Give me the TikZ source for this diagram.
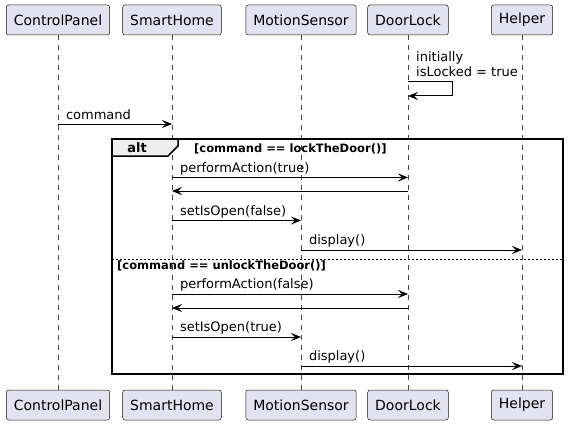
\documentclass[tikz,border=0pt]{standalone}
\usepackage{fontspec}
\setmainfont{DejaVu Sans}
\usetikzlibrary{arrows.meta,positioning}

\definecolor{partFill}{HTML}{E2E2F0}
\definecolor{partLine}{HTML}{181818}
\definecolor{tabFill}{HTML}{EEEEEE}

\tikzstyle{participant} = [rectangle, rounded corners=2.5pt, minimum height=30pt, inner xsep=7.5pt, text centered, draw=partLine, line width=0.5pt, fill=partFill, font=\fontsize{14}{16}\selectfont]
\tikzstyle{lifeline} = [draw=partLine!80, line width=0.5pt, dash pattern=on 5pt off 5pt]
\tikzstyle{arrow} = [line width=1pt, -{Stealth[length=10pt,width=8pt,inset=4pt]}]
\tikzstyle{msg} = [anchor=base west, inner sep=0pt, font=\fontsize{13}{15}\selectfont]
\tikzstyle{guard} = [anchor=base west, inner sep=0pt, font=\bfseries\fontsize{11.5}{13}\selectfont]
\tikzstyle{frameLine} = [line width=1.5pt, draw=black]

\begin{document}
\begin{tikzpicture}[x=1pt,y=-1pt]
    \useasboundingbox (0,0) rectangle (569,425);

    % participants, top row
    \node (ctrlTop)[participant] at (58,20) {ControlPanel};
    \node (homeTop)[participant] at (172,20) {SmartHome};
    \node (sensorTop)[participant] at (301,20) {MotionSensor};
    \node (lockTop)[participant] at (408,20) {DoorLock};
    \node (helperTop)[participant] at (522,20) {Helper};

    % participants, bottom row
    \node (ctrlBot)[participant] at (58,405) {ControlPanel};
    \node (homeBot)[participant] at (172,405) {SmartHome};
    \node (sensorBot)[participant] at (301,405) {MotionSensor};
    \node (lockBot)[participant] at (408,405) {DoorLock};
    \node (helperBot)[participant] at (522,405) {Helper};

    % lifelines
    \draw [lifeline] (ctrlTop.south) -- (ctrlBot.north);
    \draw [lifeline] (homeTop.south) -- (homeBot.north);
    \draw [lifeline] (sensorTop.south) -- (sensorBot.north);
    \draw [lifeline] (lockTop.south) -- (lockBot.north);
    \draw [lifeline] (helperTop.south) -- (helperBot.north);

    % self message on DoorLock
    \coordinate (selfTop) at (452,82);
    \coordinate (selfBot) at (452,96);
    \draw [arrow] (lockTop |- selfTop) -- (selfTop) -- (selfBot) -- (lockTop |- selfBot);
    \node (noteInit)[msg] at (416,62) {initially};
    \node (noteLocked)[msg] at (416,76.5) {isLocked = true};

    \draw [arrow] (ctrlTop |- 0,124) -- (homeTop |- 0,124)
        node (lblCommand)[msg, pos=0, xshift=7.5pt, yshift=5pt] {command};

    % alt frame
    \draw [frameLine] (112,139) rectangle (563,374);
    \filldraw [frameLine, fill=tabFill] (112,139) -- (178,139) -- (178,146) -- (168,156) -- (112,156) -- cycle;
    \node (altLabel)[anchor=base, inner sep=0pt, font=\bfseries\fontsize{13}{15}\selectfont] at (137,152) {alt};
    \node (guardLock)[guard] at (194,152) {[command == lockTheDoor()]};

    \draw [arrow] (homeTop |- 0,177.5) -- (lockTop |- 0,177.5)
        node (lblLockTrue)[msg, pos=0, xshift=7.5pt, yshift=5.5pt] {performAction(true)};
    \draw [arrow] (lockTop |- 0,191) -- (homeTop |- 0,191);
    \draw [arrow] (homeTop |- 0,220.5) -- (sensorTop |- 0,220.5)
        node (lblOpenFalse)[msg, pos=0, xshift=7.5pt, yshift=5.5pt] {setIsOpen(false)};
    \draw [arrow] (sensorTop |- 0,250) -- (helperTop |- 0,250)
        node (lblDisplayA)[msg, pos=0, xshift=7.5pt, yshift=5.5pt] {display()};

    % else branch
    \draw [line width=0.75pt, dash pattern=on 2pt off 2pt] (112,259) -- (563,259);
    \node (guardUnlock)[guard] at (117,269) {[command == unlockTheDoor()]};

    \draw [arrow] (homeTop |- 0,294) -- (lockTop |- 0,294)
        node (lblLockFalse)[msg, pos=0, xshift=7.5pt, yshift=5.5pt] {performAction(false)};
    \draw [arrow] (lockTop |- 0,308) -- (homeTop |- 0,308);
    \draw [arrow] (homeTop |- 0,337) -- (sensorTop |- 0,337)
        node (lblOpenTrue)[msg, pos=0, xshift=7.5pt, yshift=5.5pt] {setIsOpen(true)};
    \draw [arrow] (sensorTop |- 0,366) -- (helperTop |- 0,366)
        node (lblDisplayB)[msg, pos=0, xshift=7.5pt, yshift=5.5pt] {display()};
\end{tikzpicture}
\end{document}
